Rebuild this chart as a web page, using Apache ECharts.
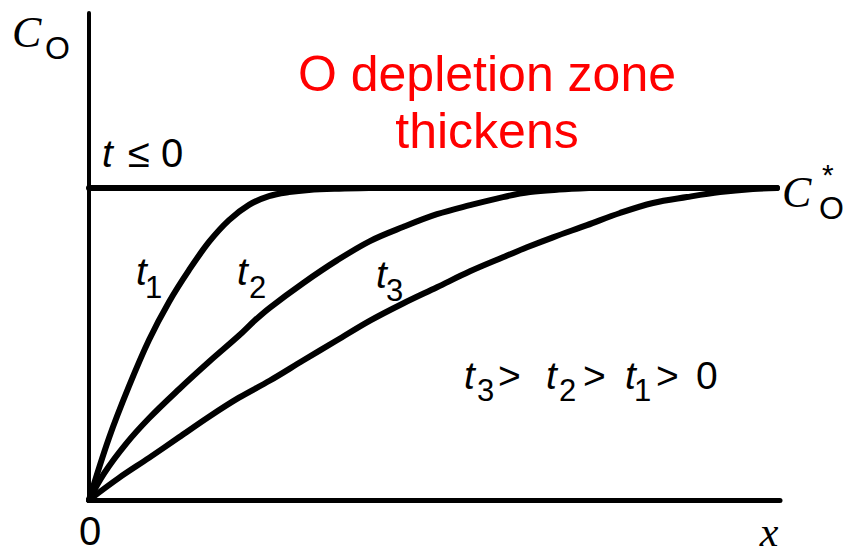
<!DOCTYPE html>
<html>
<head>
<meta charset="utf-8">
<script src="https://cdn.jsdelivr.net/npm/echarts@6/dist/echarts.min.js"></script>
<style>
  html, body { margin: 0; padding: 0; background: #ffffff; }
  #chart { width: 843px; height: 554px; }
</style>
</head>
<body>
<div id="chart"></div>
<script>
// Concentration profiles of species O near an electrode after a potential step.
// x: distance from the electrode (arbitrary units), C: C_O / C*_O.

const xAxisMax = 691;
const cAxisMax = 1.561;

// t <= 0: uniform bulk concentration
const profileInitial = [[0, 1], [688, 1]];

const profileT1 = [
  [0, 0], [20, 0.199], [40, 0.365], [60, 0.513], [80, 0.635], [100, 0.737],
  [120, 0.827], [140, 0.897], [160, 0.946], [180, 0.974], [200, 0.987],
  [220, 0.994], [250, 0.998], [280, 1]
];

const profileT2 = [
  [0, 0], [15, 0.085], [37, 0.18], [60, 0.262], [90, 0.355], [120, 0.443],
  [150, 0.527], [166, 0.576], [181, 0.617], [214, 0.695], [248, 0.768],
  [281, 0.830], [314, 0.875], [348, 0.916], [381, 0.945], [414, 0.971],
  [441, 0.987], [470, 0.995], [500, 1]
];

const profileT3 = [
  [0, 0], [30, 0.071], [60, 0.135], [90, 0.201], [120, 0.267], [150, 0.328],
  [181, 0.383], [214, 0.447], [248, 0.512], [281, 0.575], [314, 0.630],
  [348, 0.682], [381, 0.733], [414, 0.778], [438, 0.810], [464, 0.842],
  [498, 0.881], [531, 0.920], [564, 0.952], [598, 0.971], [631, 0.987],
  [664, 0.997], [688, 1]
];

const seriesNames = ['t ≤ 0', 't1', 't2', 't3'];
const titleLines = ['O depletion zone', 'thickens'];

const SANS = '"Liberation Sans", Arial, Helvetica, sans-serif';
const SERIF = '"Liberation Serif", "Times New Roman", serif';
const INK = '#000000';

// Text placed by its baseline; the renderer centres text on the em box.
function txt(x, baseline, text, size, family, opt) {
  opt = opt || {};
  const style = {
    text: text,
    font: (opt.italic ? 'italic ' : '') + size + 'px ' + family,
    fill: opt.color || INK,
    align: opt.align || 'left',
    verticalAlign: 'middle',
    textAlign: opt.align || 'left',
    textVerticalAlign: 'middle'
  };
  return { type: 'text', x: x, y: baseline - 0.34 * size, silent: true, style: style };
}

const labels = [
  // axis title C_O
  txt(12, 47, 'C', 44, SERIF, { italic: true }),
  txt(45, 59, 'O', 32, SANS),
  // bulk value C*_O
  txt(782, 207, 'C', 44, SERIF, { italic: true }),
  txt(822, 185, '*', 30, SANS),
  txt(819, 219, 'O', 32, SANS),
  // t <= 0
  txt(102, 167, 't', 39, SANS, { italic: true }),
  txt(128, 167, '≤ 0', 40, SANS),
  // curve labels
  txt(136, 285, 't', 39, SANS, { italic: true }),
  txt(145, 298, '1', 31, SANS),
  txt(237, 285, 't', 39, SANS, { italic: true }),
  txt(249, 298, '2', 31, SANS),
  txt(376, 288, 't', 39, SANS, { italic: true }),
  txt(386, 301, '3', 31, SANS),
  // ordering of times
  txt(464, 389, 't', 39, SANS, { italic: true }),
  txt(477, 401, '3', 31, SANS),
  txt(498, 389, '>', 39, SANS),
  txt(546, 389, 't', 39, SANS, { italic: true }),
  txt(559, 401, '2', 31, SANS),
  txt(583, 389, '>', 39, SANS),
  txt(625, 389, 't', 39, SANS, { italic: true }),
  txt(634, 401, '1', 31, SANS),
  txt(656, 389, '>', 39, SANS),
  txt(696, 389, '0', 39, SANS),
  // axis origin and x
  txt(90, 545, '0', 40, SANS, { align: 'center' }),
  txt(769, 546, 'x', 42, SERIF, { italic: true, align: 'center' }),
  // annotation
  txt(487, 91, titleLines[0], 50, SANS, { align: 'center', color: '#ff0000' }),
  txt(487, 148, titleLines[1], 50, SANS, { align: 'center', color: '#ff0000' })
];

function curve(name, data, width) {
  return {
    name: name,
    type: 'line',
    data: data,
    smooth: 0.35,
    symbol: 'none',
    silent: true,
    lineStyle: { color: INK, width: width, cap: 'round', join: 'round' }
  };
}

const chart = echarts.init(document.getElementById('chart'), null, { renderer: 'svg' });
chart.setOption({
  animation: false,
  backgroundColor: '#ffffff',
  grid: { left: 89, right: 63, top: 13, bottom: 54 },
  xAxis: {
    type: 'value', min: 0, max: xAxisMax,
    axisLine: { show: true, onZero: false, lineStyle: { color: INK, width: 5 } },
    axisTick: { show: false }, axisLabel: { show: false }, splitLine: { show: false }
  },
  yAxis: {
    type: 'value', min: 0, max: cAxisMax,
    axisLine: { show: true, onZero: false, lineStyle: { color: INK, width: 4 } },
    axisTick: { show: false }, axisLabel: { show: false }, splitLine: { show: false }
  },
  series: [
    curve(seriesNames[0], profileInitial, 6),
    curve(seriesNames[1], profileT1, 6),
    curve(seriesNames[2], profileT2, 6),
    curve(seriesNames[3], profileT3, 6)
  ],
  graphic: labels
});
</script>
</body>
</html>
